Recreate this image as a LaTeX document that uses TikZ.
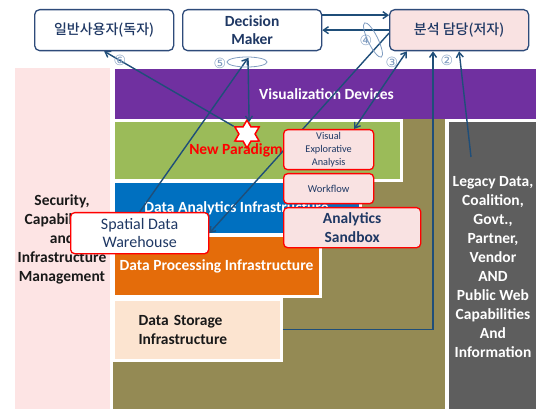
\documentclass[tikz,border=0pt]{standalone}
\usepackage{fontspec}
\setmainfont{Carlito}
\newfontfamily\krfont{Noto Sans CJK KR Medium}
\newfontfamily\numfont{DejaVu Sans}
\usetikzlibrary{shapes.geometric,arrows.meta}

\definecolor{vizpurple}{HTML}{7030A0}
\definecolor{paragreen}{HTML}{9BBB59}
\definecolor{analyblue}{HTML}{0070C0}
\definecolor{procorange}{HTML}{E46C0A}
\definecolor{storepeach}{HTML}{FCE4D0}
\definecolor{baseolive}{HTML}{948A54}
\definecolor{legacygray}{HTML}{5E5E5E}
\definecolor{panelpink}{HTML}{FDE4E4}
\definecolor{boxpink}{HTML}{F9E2E2}
\definecolor{boxnavy}{HTML}{2E4B7A}
\definecolor{textnavy}{HTML}{1F3864}
\definecolor{arrowblue}{HTML}{1F4E79}
\definecolor{numgray}{HTML}{7F9CC0}

\pgfdeclarelayer{back}
\pgfdeclarelayer{mid}
\pgfsetlayers{back,mid,main}

\begin{document}
\begin{tikzpicture}[x=1pt,y=-1pt,
   band/.style={draw=white,line width=3pt,inner sep=0pt,anchor=north west,
      text=white,align=center,font=\bfseries\fontsize{15.5}{19}\selectfont},
   topbox/.style={draw=boxnavy,line width=1.3pt,rounded corners=5pt,anchor=north west,
      minimum width=139,minimum height=41,inner sep=0pt,text=textnavy,align=center},
   redbox/.style={draw=red,line width=1.3pt,rounded corners=4pt,fill=boxpink,
      anchor=north west,inner sep=0pt,text=textnavy,align=center},
   link/.style={draw=arrowblue,line width=1.4pt,-{Straight Barb[length=5pt,width=7pt]}},
   stepno/.style={text=numgray,inner sep=0pt,font=\numfont\fontsize{14}{14}\selectfont},
   ring/.style={draw=numgray,line width=0.8pt}]
   \useasboundingbox (0,0) rectangle (536,409);

   % layers of the stack
   \begin{pgfonlayer}{back}
   \node[band,fill=panelpink,draw=none,minimum width=95,minimum height=342,text=black!90]
      (security) at (13,67) {Security,\\Capabilities\\and\\Infrastructure\\Management};
   \node[band,fill=vizpurple,minimum width=426,minimum height=53] (viz) at (112,66)
      {Visualization Devices};
   \fill[baseolive] (113,119) rectangle (445,409);
   \node[band,fill=paragreen,minimum width=288,minimum height=60] (newband) at (111.5,119.5) {};
   \node[band,fill=analyblue,minimum width=247,minimum height=53] (analytics) at (111.5,180.5)
      {Data Analytics Infrastructure};
   \node[band,fill=procorange,minimum width=207,minimum height=60] (processing) at (111.5,234.5)
      {Data Processing Infrastructure};
   \node[band,fill=storepeach,minimum width=168,minimum height=61,text=black!90,
      align=left,inner xsep=25.5pt,text width=117pt] (storage) at (111.5,297.5)
      {Data Storage\\Infrastructure};
   \node[band,fill=legacygray,minimum width=92,minimum height=292] (legacy) at (445.5,119.5)
      {Legacy Data,\\Coalition,\\Govt.,\\Partner,\\Vendor\\AND\\Public Web\\Capabilities\\And\\Information};
   \node[star,star points=6,star point ratio=1.73,draw=red,fill=white,line width=1.5pt,
      minimum size=28,inner sep=0pt] (paradigm) at (247,134) {};
   \node[text=red,font=\bfseries\fontsize{15.5}{19}\selectfont] (paradigmtext) at (236,150) {New Paradigm};
   \end{pgfonlayer}

   % boxes
   \node[redbox,minimum width=90,minimum height=40,font=\fontsize{10.3}{13}\selectfont]
      (vea) at (283,129) {Visual\\Explorative\\Analysis};
   \node[redbox,minimum width=90,minimum height=30,font=\fontsize{10.5}{13}\selectfont]
      (workflow) at (283,173) {Workflow};
   \node[redbox,minimum width=137,minimum height=40,font=\bfseries\fontsize{15.5}{19}\selectfont]
      (sandbox) at (283,207) {Analytics\\Sandbox};
   \node[redbox,fill=white,minimum width=138,minimum height=41,font=\fontsize{16}{18}\selectfont]
      (sdw) at (70,212) {Spatial Data\\Warehouse};

   \node[topbox,fill=white,font=\krfont\fontsize{14}{17}\selectfont] (reader) at (34,9) {일반사용자(독자)};
   \node[topbox,fill=white,font=\bfseries\fontsize{15.5}{18}\selectfont] (decision) at (182,9) {Decision\\Maker};
   \node[topbox,fill=boxpink,font=\krfont\fontsize{14}{17}\selectfont] (analyst) at (389,9) {분석 담당(저자)};

   \coordinate (dmfoot) at (248,58);
   \coordinate (legfoot) at (471,157);

   % flows
   \begin{pgfonlayer}{mid}
   \draw[link] (paradigm) -- (reader.south);
   \draw[link] (sdw.north) -- (dmfoot);
   \draw[link] (dmfoot) -- (paradigm.80);
   \draw[link] ([yshift=-3pt]analyst.west) -- (sdw.east);
   \draw[link,{Straight Barb[length=5pt,width=7pt]}-{Straight Barb[length=5pt,width=7pt]}]
      (vea.39) -- (analyst.202);
   \draw[link] (storage.east) -| (analyst.219);
   \draw[link] (legfoot) -- (analyst.south);
   \draw[link] ([yshift=15pt]decision.east) -- ([yshift=15pt]analyst.west);
   \draw[link] (analyst.west) -- (decision.east);
   \end{pgfonlayer}

   \draw[ring] (247,62) ellipse [x radius=20,y radius=5];
   \draw[ring,rotate around={-64:(373,40)}] (373,40) ellipse [x radius=19,y radius=5];
   \node[stepno] (step2) at (447,60) {②};
   \node[stepno] (step3) at (392,62) {③};
   \node[stepno] (step4) at (366,40) {④};
   \node[stepno] (step5) at (220,63) {⑤};
   \node[stepno] (step6) at (120,60) {⑥};
\end{tikzpicture}
\end{document}
